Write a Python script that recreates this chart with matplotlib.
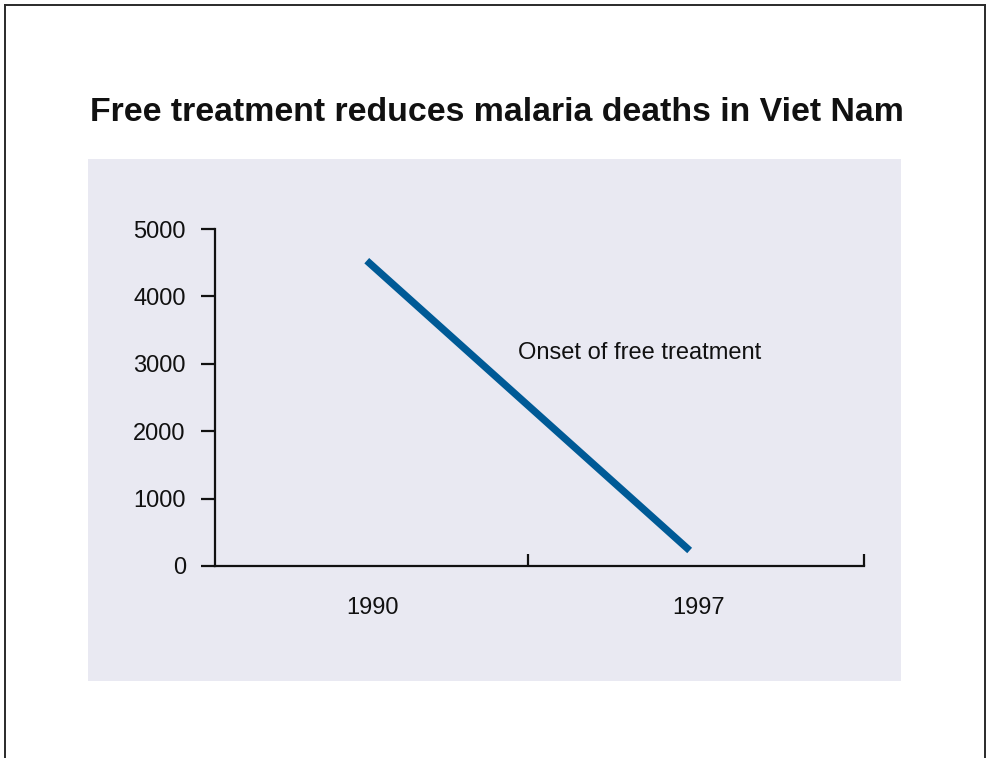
import matplotlib
matplotlib.use("Agg")
import matplotlib.pyplot as plt
from matplotlib import font_manager
from matplotlib.patches import Rectangle
from matplotlib.lines import Line2D
from matplotlib.transforms import ScaledTranslation

# ---- data ----
years = ["1990", "1997"]
deaths = [4530, 230]
y_ticks = [0, 1000, 2000, 3000, 4000, 5000]
title = "Free treatment reduces malaria deaths in Viet Nam"
annotation = "Onset of free treatment"

names = {f.name for f in font_manager.fontManager.ttflist}
FONT = "Liberation Sans Narrow" if "Liberation Sans Narrow" in names else "Liberation Sans"
NARROW = FONT == "Liberation Sans Narrow"
plt.rcParams["font.family"] = [FONT, "DejaVu Sans"]

LBL = 19 if NARROW else 17
TTL = 26 if NARROW else 24.4

W, H = 988, 758
fig = plt.figure(figsize=(W / 100, H / 100), dpi=100)
fig.patch.set_facecolor("white")

def fx(px):
    return px / W

def fy(py):
    return (H - py) / H

# background panel
fig.patches.append(Rectangle((fx(88), fy(681)), fx(901) - fx(88), fy(159) - fy(681),
                             transform=fig.transFigure, facecolor="#E9E9F2",
                             edgecolor="none", zorder=0))
# border (top, left, right)
bc = "#2a2a2a"
fig.lines.append(Line2D([fx(5), fx(5)], [0, fy(5)], transform=fig.transFigure, color=bc, lw=1.4))
fig.lines.append(Line2D([fx(985), fx(985)], [0, fy(5)], transform=fig.transFigure, color=bc, lw=1.4))
fig.lines.append(Line2D([fx(5), fx(985)], [fy(5), fy(5)], transform=fig.transFigure, color=bc, lw=1.4))

# title
fig.text(fx(90), fy(121), title, fontsize=TTL, fontweight="bold", ha="left", va="baseline",
         color="#111111")

ax = fig.add_axes([fx(215), fy(566), fx(864) - fx(215), fy(229) - fy(566)])
ax.set_zorder(5)
ax.set_facecolor("none")
x = list(range(len(years)))
ax.plot(x, deaths, color="#005A96", lw=5.2, solid_capstyle="butt")

ax.set_xlim(-0.47, 1.54)
ax.set_ylim(0, 5000)
ax.set_yticks(y_ticks)
ax.set_yticklabels([str(v) for v in y_ticks])
ax.set_xticks([0.5, 1.54])
ax.set_xticklabels(["", ""])
ax.set_xticks(x, minor=True)
ax.set_xticklabels(years, minor=True)

for s in ["top", "right"]:
    ax.spines[s].set_visible(False)
for s in ["left", "bottom"]:
    ax.spines[s].set_linewidth(1.6)
    ax.spines[s].set_color("#111111")

ax.tick_params(axis="y", direction="out", length=10, width=1.6, pad=11,
               labelsize=LBL, colors="#111111")
ax.tick_params(axis="x", which="major", direction="in", length=8.5, width=1.6, colors="#111111")
ax.tick_params(axis="x", which="minor", length=0, pad=22, labelsize=LBL, colors="#111111")

# nudge the year labels slightly right, as in the reference
for lab, dx in zip(ax.get_xticklabels(minor=True), [6, 9]):
    lab.set_transform(lab.get_transform() + ScaledTranslation(dx / 100, 0, fig.dpi_scale_trans))

ax.text(0.469, 3160, annotation, fontsize=LBL, ha="left", va="center", color="#111111")

fig.savefig("out.png", dpi=100, facecolor="white")
